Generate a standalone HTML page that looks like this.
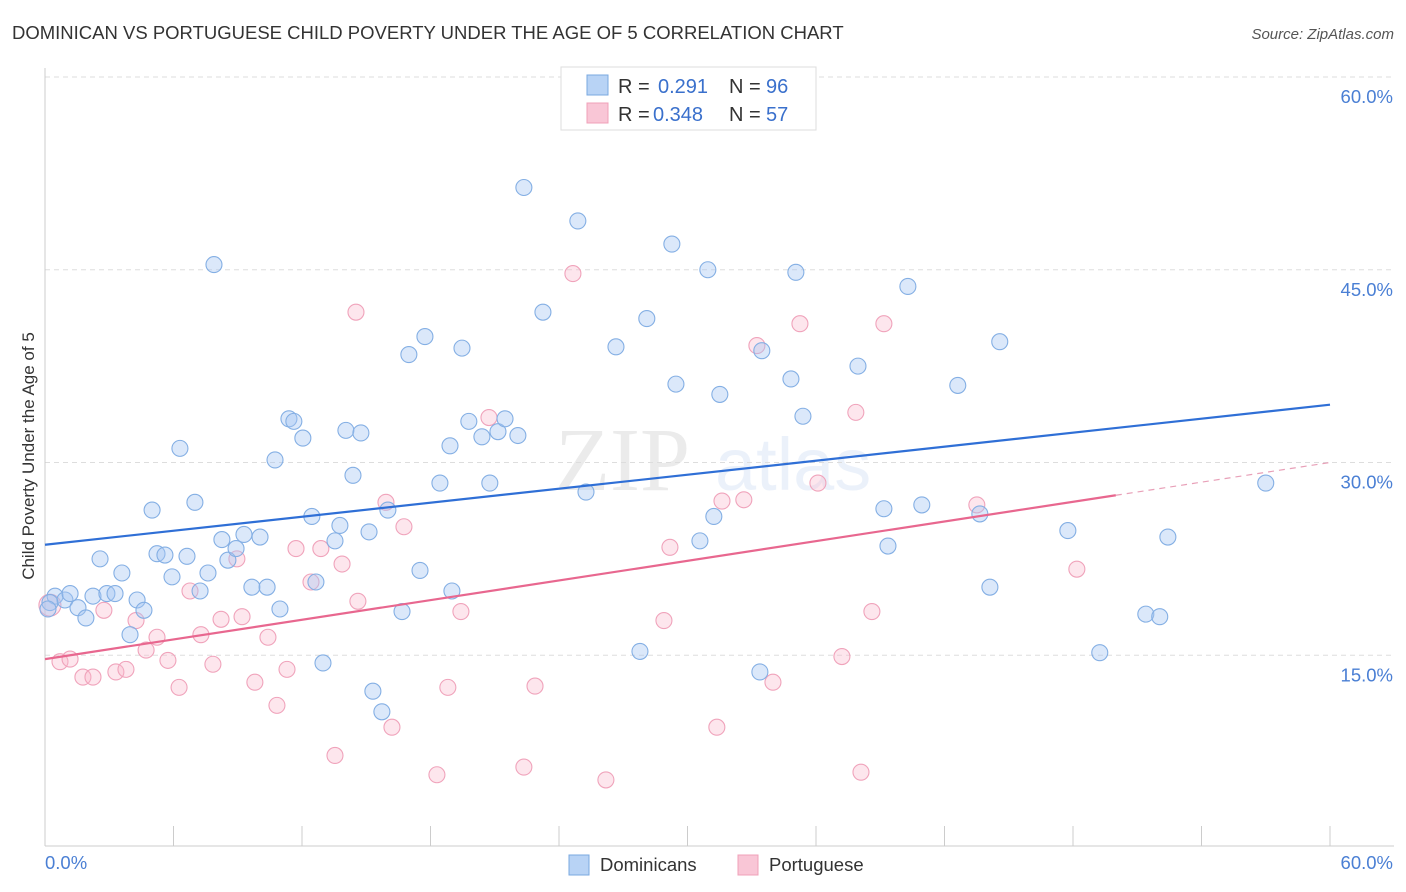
<!DOCTYPE html>
<html><head><meta charset="utf-8">
<style>
body{margin:0;background:#fff;font-family:"Liberation Sans",sans-serif;}
svg{display:block}
</style></head>
<body>
<svg id="chart" width="1406" height="892">
<text x="12" y="39" font-size="18.5" fill="#333">DOMINICAN VS PORTUGUESE CHILD POVERTY UNDER THE AGE OF 5 CORRELATION CHART</text>
<text x="1394" y="39" font-size="15" fill="#555" font-style="italic" text-anchor="end">Source: ZipAtlas.com</text>
<g opacity="0.1">
<text x="555" y="490" font-size="90" font-family="Liberation Serif,serif" fill="#444">ZIP</text>
<text x="715" y="490" font-size="74" fill="#4a7fd4">atlas</text>
</g>
<g id="grid"></g>
<g id="axes"></g>
<g id="marks"></g>
<g>
<rect x="561" y="67" width="255" height="63" fill="#fff" stroke="#ddd"/>
<rect x="587" y="75" width="21" height="20" fill="#b8d3f5" stroke="#7aa8e0"/>
<rect x="587" y="103" width="21" height="20" fill="#f9c6d6" stroke="#f0a0b8"/>
<text x="618" y="93" font-size="20" fill="#333">R = </text><text x="658" y="93" font-size="20" fill="#3a70cc">0.291</text>
<text x="729" y="93" font-size="20" fill="#333">N = </text><text x="766" y="93" font-size="20" fill="#3a70cc">96</text>
<text x="618" y="121" font-size="20" fill="#333">R = </text><text x="653" y="121" font-size="20" fill="#3a70cc">0.348</text>
<text x="729" y="121" font-size="20" fill="#333">N = </text><text x="766" y="121" font-size="20" fill="#3a70cc">57</text>
</g>
<g>
<rect x="569" y="855" width="20" height="20" fill="#b8d3f5" stroke="#7aa8e0"/>
<text x="600" y="871" font-size="18.5" fill="#333">Dominicans</text>
<rect x="738" y="855" width="20" height="20" fill="#f9c6d6" stroke="#f0a0b8"/>
<text x="769" y="871" font-size="18.5" fill="#333">Portuguese</text>
</g>
<text transform="translate(34,456) rotate(-90)" font-size="17" fill="#333" text-anchor="middle">Child Poverty Under the Age of 5</text>
</svg>
<script>
const yTicks=[15,30,45,60];
const yTickLabels=["15.0%","30.0%","45.0%","60.0%"];
const xTickLabels=["0.0%","60.0%"];
const domX=[0.47,0.93,1.17,1.54,1.91,2.24,2.57,2.89,3.27,3.59,3.97,4.30,4.62,5.00,5.23,5.60,5.93,6.30,6.63,7.00,7.24,7.61,7.89,8.26,8.54,8.92,9.29,9.66,10.04,10.37,10.74,10.97,11.39,11.62,12.04,12.46,12.65,12.98,13.54,13.77,14.05,14.38,14.75,15.13,15.31,15.73,16.01,16.67,16.99,17.51,17.74,18.44,18.91,19.00,19.47,19.79,20.40,20.77,21.15,21.48,22.08,22.36,23.25,24.88,25.26,26.66,27.78,28.10,29.27,29.46,30.58,30.95,31.23,31.51,33.38,33.47,34.83,35.06,35.39,37.96,39.17,39.36,40.29,40.94,42.62,43.65,44.12,44.58,47.76,49.25,51.40,52.05,52.43,57.0,0.23,0.14];
const domY=[19.6,19.3,19.8,18.7,17.9,19.6,22.5,19.8,19.8,21.4,16.6,19.3,18.5,26.3,22.9,22.8,21.1,31.1,22.7,26.9,20.0,21.4,45.4,24.0,22.4,23.3,24.4,20.3,24.2,20.3,30.2,18.6,33.4,33.2,31.9,25.8,20.7,14.4,23.9,25.1,32.5,29.0,32.3,24.6,12.2,10.6,26.3,18.4,38.4,21.6,39.8,28.4,31.3,20.0,38.9,33.2,32.0,28.4,32.4,33.4,32.1,51.4,41.7,48.8,27.7,39.0,15.3,41.2,47.0,36.1,23.9,45.0,25.8,35.3,13.7,38.7,36.5,44.8,33.6,37.5,26.4,23.5,43.7,26.7,36.0,26.0,20.3,39.4,24.7,15.2,18.2,18.0,24.2,28.4,19.1,18.6];
const porX=[0.23,0.70,1.17,1.77,2.24,2.75,3.31,3.78,4.25,4.72,5.23,5.74,6.26,6.77,7.28,7.84,8.22,8.96,9.20,9.80,10.41,10.83,11.30,11.72,12.42,12.88,13.54,13.87,14.52,14.61,15.92,16.20,16.76,18.30,18.81,19.42,20.73,22.36,22.88,24.65,26.19,28.90,29.18,31.37,31.61,32.63,33.24,33.99,35.25,36.09,37.21,37.86,38.10,38.61,39.17,43.51,48.18];
const porY=[18.9,14.5,14.7,13.3,13.3,18.5,13.7,13.9,17.7,15.4,16.4,14.6,12.5,20.0,16.6,14.3,17.8,22.5,18.0,12.9,16.4,11.1,13.9,23.3,20.7,23.3,7.2,22.1,41.7,19.2,26.9,9.4,25.0,5.7,12.5,18.4,33.5,6.3,12.6,44.7,5.3,17.7,23.4,9.4,27.0,27.1,39.1,12.9,40.8,28.4,14.9,33.9,5.9,18.4,40.8,26.7,21.7];
const domLine=[23.6,34.5];   // y at x=0 and x=60
const porLine=[14.7,30.0];   // y at x=0 and x=60
const porSolidEnd=50;

const NS="http://www.w3.org/2000/svg";
const X0=45,X1=1330,Y0=848,Y60=77;
const sx=v=>X0+(X1-X0)*v/60;
const sy=v=>Y0-(Y0-Y60)*v/60;
function mk(tag,attrs,parent){const e=document.createElementNS(NS,tag);for(const k in attrs)e.setAttribute(k,attrs[k]);parent.appendChild(e);return e;}
const grid=document.getElementById('grid'),axes=document.getElementById('axes'),marks=document.getElementById('marks');
yTicks.forEach((t,i)=>{
  const l=mk('line',{x1:X0,x2:1394,y1:sy(t),y2:sy(t),stroke:'#ddd','stroke-dasharray':'5,4'},grid);
  
  
  const tx=mk('text',{x:1393,y:sy(t)+26,'font-size':18.5,fill:'#4a7fd4','text-anchor':'end'},axes);
  tx.textContent=yTickLabels[i];
  
  
});
const xa=mk('line',{x1:X0,x2:1394,y1:846,y2:846,stroke:'#ccc'},axes);


const ya=mk('line',{x1:X0,x2:X0,y1:68,y2:846,stroke:'#ccc'},axes);


for(let i=0;i<=10;i++){
  const t=mk('line',{x1:sx(i*6),x2:sx(i*6),y1:826,y2:846,stroke:'#ccc'},axes);
  
  
}
const xl0=mk('text',{x:45,y:869,'font-size':18.5,fill:'#4a7fd4'},axes);xl0.textContent=xTickLabels[0];


const xl1=mk('text',{x:1393,y:869,'font-size':18.5,fill:'#4a7fd4','text-anchor':'end'},axes);xl1.textContent=xTickLabels[1];



porX.forEach((x,i)=>{
  const c=mk('circle',{cx:sx(x),cy:sy(porY[i]),r:i===0?11:8,fill:'rgba(248,182,202,0.35)',stroke:'#f0a3bb','stroke-width':1.1},marks);
  
  
});
domX.forEach((x,i)=>{
  const c=mk('circle',{cx:sx(x),cy:sy(domY[i]),r:8,fill:'rgba(164,198,242,0.4)',stroke:'#84afe4','stroke-width':1.1},marks);
  
  
});
const bl=mk('line',{x1:sx(0),y1:sy(domLine[0]),x2:sx(60),y2:sy(domLine[1]),stroke:'#2f6fd6','stroke-width':2.2},marks);


const pAt=x=>porLine[0]+(porLine[1]-porLine[0])*x/60;
const pl=mk('line',{x1:sx(0),y1:sy(pAt(0)),x2:sx(porSolidEnd),y2:sy(pAt(porSolidEnd)),stroke:'#e8678f','stroke-width':2.2},marks);


const pd=mk('line',{x1:sx(porSolidEnd),y1:sy(pAt(porSolidEnd)),x2:sx(60),y2:sy(pAt(60)),stroke:'#e8a0b8','stroke-width':1.2,'stroke-dasharray':'6,5'},marks);


</script>
</body></html>
